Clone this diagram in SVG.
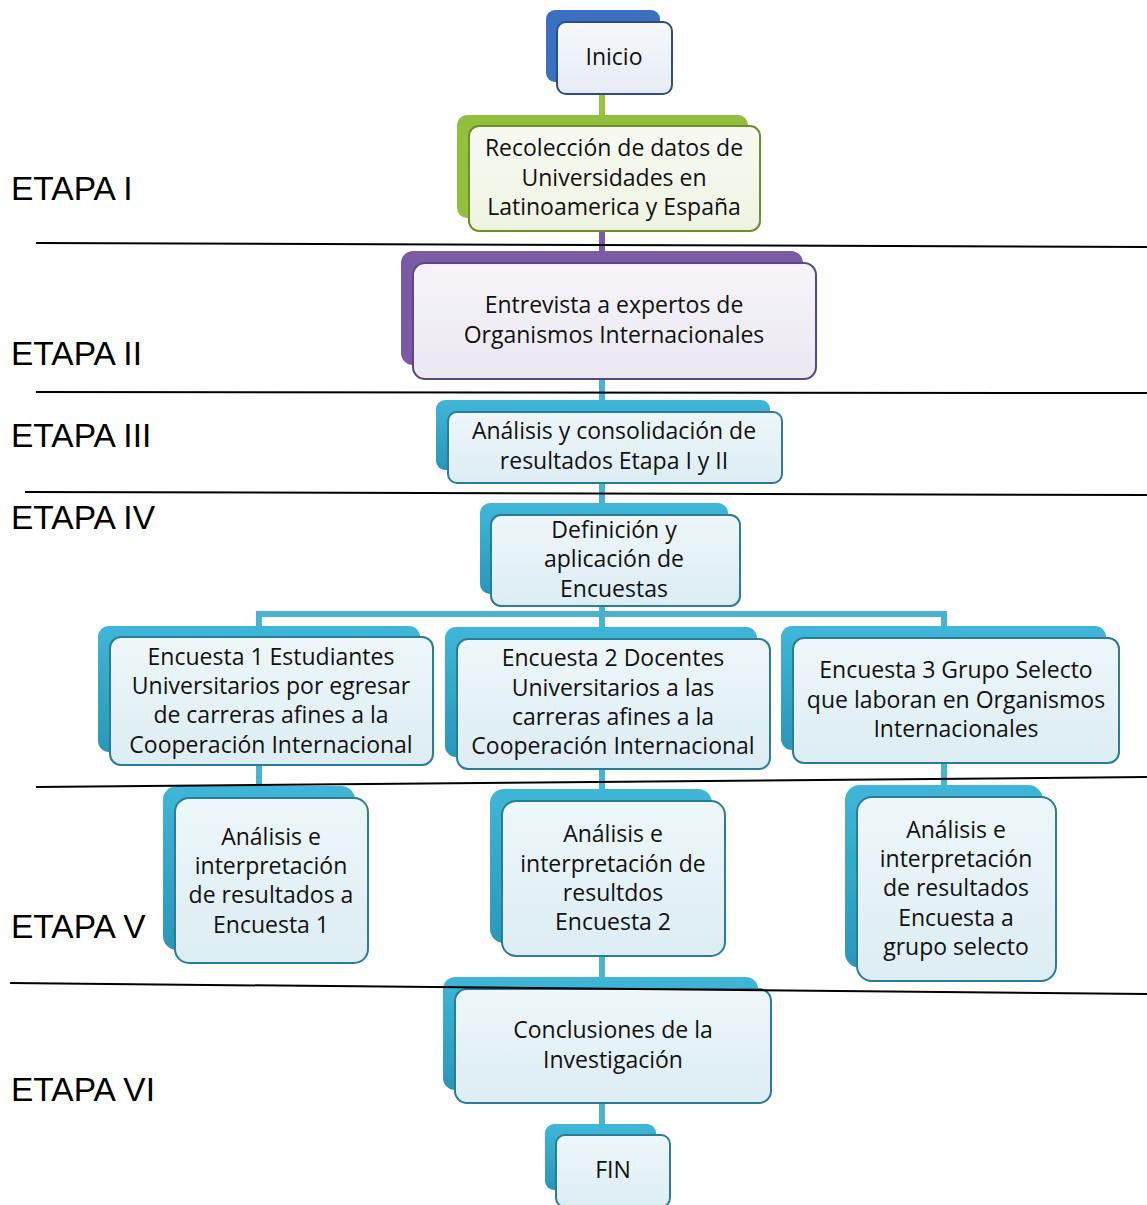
<svg xmlns="http://www.w3.org/2000/svg" width="1147" height="1205" viewBox="0 0 1147 1205">
<defs>
<linearGradient id="gBlue" x1="0" y1="0" x2="0" y2="1"><stop offset="0" stop-color="#f6f8fc"/><stop offset="1" stop-color="#e6ebf5"/></linearGradient>
<linearGradient id="gGreen" x1="0" y1="0" x2="0" y2="1"><stop offset="0" stop-color="#f8faf2"/><stop offset="1" stop-color="#eef3e2"/></linearGradient>
<linearGradient id="gPurple" x1="0" y1="0" x2="0" y2="1"><stop offset="0" stop-color="#f6f4f9"/><stop offset="1" stop-color="#ebe8f2"/></linearGradient>
<linearGradient id="gTeal" x1="0" y1="0" x2="0" y2="1"><stop offset="0" stop-color="#eef7fa"/><stop offset="1" stop-color="#dcedf3"/></linearGradient>
<linearGradient id="bTeal" x1="0" y1="0" x2="0" y2="1"><stop offset="0" stop-color="#3fb6d8"/><stop offset="1" stop-color="#2a97b9"/></linearGradient>
</defs>
<style>
.lbl{font-family:"Liberation Sans",Arial,sans-serif;font-size:33.5px;fill:#000}
.t{font-family:"Open Sans","Noto Sans",sans-serif;font-size:23px;fill:#111;text-anchor:middle}
.sep{stroke:#000;stroke-width:2;fill:none}
.c{fill:none;stroke-width:6}
.cb{stroke:#4bb3cf}
.bkB{fill:#3b6fc1}.frB{fill:url(#gBlue);stroke:#2e4e80;stroke-width:2}
.bkG{fill:#93bf3e}.frG{fill:url(#gGreen);stroke:#6e8f2c;stroke-width:2}
.bkP{fill:#7b5aa6}.frP{fill:url(#gPurple);stroke:#5e4585;stroke-width:2}
.bkT{fill:url(#bTeal)}.frT{fill:url(#gTeal);stroke:#2b7d96;stroke-width:2}
</style>

<g id="connectors">
<line class="c" x1="602" y1="94" x2="602" y2="115" stroke="#9bc243"/>
<line class="c" x1="602" y1="231" x2="602" y2="251" stroke="#7b5aa6"/>
<line class="c cb" x1="602" y1="379" x2="602" y2="400"/>
<line class="c cb" x1="602" y1="483" x2="602" y2="503"/>
<line class="c cb" x1="602" y1="606" x2="602" y2="627"/>
<polyline class="c cb" points="259,626 259,614 944,614 944,626" stroke-width="5"/>
<line class="c cb" x1="259" y1="765" x2="259" y2="786"/>
<line class="c cb" x1="602" y1="769" x2="602" y2="789"/>
<line class="c cb" x1="944" y1="763" x2="944" y2="785"/>
<line class="c cb" x1="602" y1="956" x2="602" y2="977"/>
<line class="c cb" x1="602" y1="1103" x2="602" y2="1124"/>
</g>

<g id="labels">
<text class="lbl" x="11" y="200">ETAPA I</text>
<text class="lbl" x="11" y="365">ETAPA II</text>
<text class="lbl" x="11" y="447">ETAPA III</text>
<text class="lbl" x="11" y="529">ETAPA IV</text>
<text class="lbl" x="11" y="938">ETAPA V</text>
<text class="lbl" x="11" y="1101">ETAPA VI</text>
</g>

<g id="n-inicio">
<rect class="bkB" x="546" y="10" width="114" height="72" rx="9"/>
<rect class="frB" x="557" y="22" width="115" height="72" rx="9"/>
<text class="t" x="614" y="65">Inicio</text>
</g>

<g id="n-recoleccion">
<rect class="bkG" x="457" y="115" width="291" height="103" rx="10"/>
<rect class="frG" x="469" y="126" width="291" height="105" rx="10"/>
<text class="t" x="614" y="156">Recolección de datos de</text>
<text class="t" x="614" y="186">Universidades en</text>
<text class="t" x="614" y="215">Latinoamerica y España</text>
</g>

<g id="n-entrevista">
<rect class="bkP" x="401" y="251" width="402" height="114" rx="12"/>
<rect class="frP" x="413" y="263" width="403" height="116" rx="12"/>
<text class="t" x="614" y="313">Entrevista a expertos de</text>
<text class="t" x="614" y="343">Organismos Internacionales</text>
</g>

<g id="n-analisis-consolidacion">
<rect class="bkT" x="436" y="400" width="334" height="70" rx="9"/>
<rect class="frT" x="448" y="412" width="334" height="71" rx="9"/>
<text class="t" x="614" y="439">Análisis y consolidación de</text>
<text class="t" x="614" y="469">resultados Etapa I y II</text>
</g>

<g id="n-definicion">
<rect class="bkT" x="480" y="503" width="248" height="91" rx="10"/>
<rect class="frT" x="491" y="515" width="249" height="91" rx="10"/>
<text class="t" x="614" y="538">Definición y</text>
<text class="t" x="614" y="567">aplicación de</text>
<text class="t" x="614" y="597">Encuestas</text>
</g>

<g id="n-encuesta1">
<rect class="bkT" x="98" y="626" width="322" height="126" rx="11"/>
<rect class="frT" x="110" y="637" width="323" height="128" rx="11"/>
<text class="t" x="271" y="665">Encuesta 1 Estudiantes</text>
<text class="t" x="271" y="694">Universitarios por egresar</text>
<text class="t" x="271" y="723">de carreras afines a la</text>
<text class="t" x="271" y="753">Cooperación Internacional</text>
</g>

<g id="n-encuesta2">
<rect class="bkT" x="445" y="627" width="312" height="130" rx="11"/>
<rect class="frT" x="457" y="639" width="313" height="130" rx="11"/>
<text class="t" x="613" y="666">Encuesta 2 Docentes</text>
<text class="t" x="613" y="696">Universitarios a las</text>
<text class="t" x="613" y="725">carreras afines a la</text>
<text class="t" x="613" y="754">Cooperación Internacional</text>
</g>

<g id="n-encuesta3">
<rect class="bkT" x="781" y="626" width="325" height="124" rx="11"/>
<rect class="frT" x="793" y="638" width="326" height="125" rx="11"/>
<text class="t" x="956" y="678">Encuesta 3 Grupo Selecto</text>
<text class="t" x="956" y="708">que laboran en Organismos</text>
<text class="t" x="956" y="737">Internacionales</text>
</g>

<g id="n-analisis1">
<rect class="bkT" x="163" y="786" width="192" height="164" rx="14"/>
<rect class="frT" x="175" y="798" width="193" height="165" rx="14"/>
<text class="t" x="271" y="845">Análisis e</text>
<text class="t" x="271" y="874">interpretación</text>
<text class="t" x="271" y="903">de resultados a</text>
<text class="t" x="271" y="933">Encuesta 1</text>
</g>

<g id="n-analisis2">
<rect class="bkT" x="490" y="789" width="222" height="154" rx="14"/>
<rect class="frT" x="502" y="801" width="223" height="155" rx="14"/>
<text class="t" x="613" y="842">Análisis e</text>
<text class="t" x="613" y="872">interpretación de</text>
<text class="t" x="613" y="901">resultdos</text>
<text class="t" x="613" y="930">Encuesta 2</text>
</g>

<g id="n-analisis3">
<rect class="bkT" x="845" y="785" width="198" height="183" rx="15"/>
<rect class="frT" x="857" y="797" width="199" height="184" rx="15"/>
<text class="t" x="956" y="838">Análisis e</text>
<text class="t" x="956" y="867">interpretación</text>
<text class="t" x="956" y="896">de resultados</text>
<text class="t" x="956" y="926">Encuesta a</text>
<text class="t" x="956" y="955">grupo selecto</text>
</g>

<g id="n-conclusiones">
<rect class="bkT" x="443" y="977" width="315" height="113" rx="12"/>
<rect class="frT" x="455" y="989" width="316" height="114" rx="12"/>
<text class="t" x="613" y="1038">Conclusiones de la</text>
<text class="t" x="613" y="1068">Investigación</text>
</g>

<g id="n-fin">
<rect class="bkT" x="545" y="1124" width="111" height="66" rx="9"/>
<rect class="frT" x="556" y="1135" width="114" height="72" rx="9"/>
<text class="t" x="613" y="1178">FIN</text>
</g>

<g id="separators">
<line class="sep" x1="36" y1="243" x2="1147" y2="247"/>
<line class="sep" x1="36" y1="392" x2="1147" y2="393"/>
<line class="sep" x1="25" y1="492" x2="1147" y2="495"/>
<line class="sep" x1="36" y1="787" x2="1147" y2="777"/>
<line class="sep" x1="10" y1="983" x2="1147" y2="994"/>
</g>
</svg>
